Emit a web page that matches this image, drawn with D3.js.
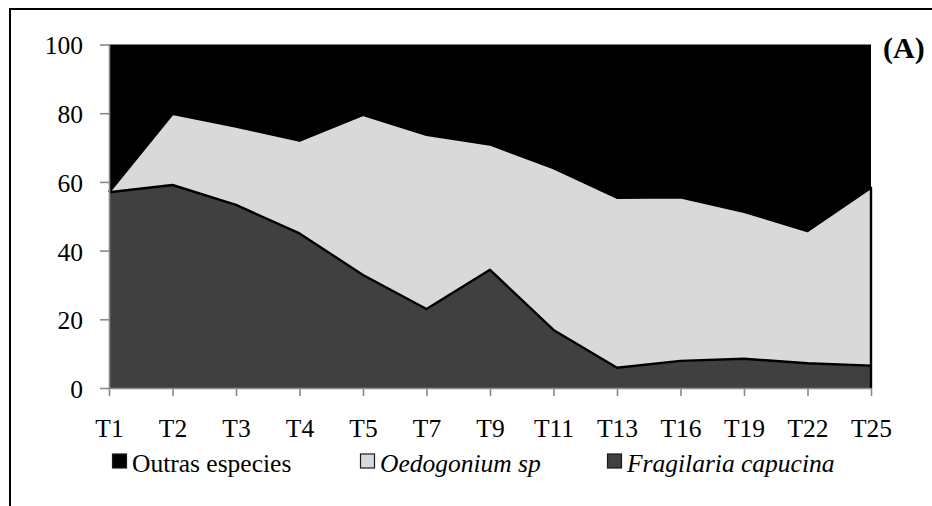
<!DOCTYPE html>
<html>
<head>
<meta charset="utf-8">
<script src="https://cdn.jsdelivr.net/npm/d3@7"></script>
<style>
  html, body { margin: 0; padding: 0; background: #fff; }
  svg { display: block; }
  text { font-family: "Liberation Serif", "Times New Roman", serif; }
</style>
</head>
<body>
<svg id="chart" width="932" height="506"></svg>
<script>
// Sampling times
const categories = ["T1", "T2", "T3", "T4", "T5", "T7", "T9", "T11", "T13", "T16", "T19", "T22", "T25"];

// Relative abundance (%) per taxon, stacked bottom to top
const fragilaria = [57.0, 59.1, 53.3, 45.0, 32.9, 23.0, 34.4, 16.9, 5.9, 7.9, 8.5, 7.2, 6.5];
const oedogonium = [0.0, 20.7, 22.8, 27.0, 46.6, 50.7, 36.5, 47.1, 49.5, 47.6, 42.8, 38.5, 51.8];
const outras     = [43.0, 20.2, 23.9, 28.0, 20.5, 26.3, 29.1, 36.0, 44.6, 44.5, 48.7, 54.3, 41.7];

const yTicks = [0, 20, 40, 60, 80, 100];

const seriesInfo = [
  { key: "fragilaria", label: "Fragilaria capucina", values: fragilaria, fill: "#404040", italic: true,  outline: true },
  { key: "oedogonium", label: "Oedogonium sp",       values: oedogonium, fill: "#d9d9d9", italic: true,  outline: true },
  { key: "outras",     label: "Outras especies",     values: outras,     fill: "#000000", italic: false, outline: false }
];
const legendOrder = ["outras", "oedogonium", "fragilaria"];

const table = categories.map((c, i) => {
  const row = { cat: c };
  seriesInfo.forEach(s => { row[s.key] = s.values[i]; });
  return row;
});

const svg = d3.select("#chart");
const axisColor = "#8a8a8a";
const fontSize = 25.5;

// Outer frame
svg.append("rect")
  .attr("x", 10).attr("y", 9)
  .attr("width", 1000).attr("height", 1000)
  .attr("fill", "none").attr("stroke", "#000").attr("stroke-width", 2);

const x = d3.scalePoint().domain(categories).range([109, 871]);
const y = d3.scaleLinear().domain([0, 100]).range([388, 44.5]);

const stack = d3.stack().keys(seriesInfo.map(s => s.key));
const stacked = stack(table);

const area = d3.area()
  .x(d => x(d.data.cat))
  .y0(d => y(d[0]))
  .y1(d => y(d[1]));

const plot = svg.append("g");

plot.selectAll("path.area")
  .data(stacked)
  .join("path")
  .attr("class", "area")
  .attr("d", area)
  .attr("fill", (d, i) => seriesInfo[i].fill);

// Black border along the upper edge and right end of each outlined series
const outlineLine = d3.line();
stacked.forEach((s, i) => {
  if (!seriesInfo[i].outline) return;
  const last = s[s.length - 1];
  const pts = s.map(d => [x(d.data.cat), y(d[1])]);
  pts.push([x(last.data.cat), y(last[0])]);
  plot.append("path")
    .attr("d", outlineLine(pts))
    .attr("fill", "none")
    .attr("stroke", "#000")
    .attr("stroke-width", 2.4)
    .attr("stroke-linejoin", "round");
});

// Axes
const yAxis = svg.append("g")
  .attr("transform", `translate(${x.range()[0]},0)`)
  .call(d3.axisLeft(y).tickValues(yTicks).tickSize(9).tickSizeOuter(0).tickPadding(17));

const xAxis = svg.append("g")
  .attr("transform", `translate(0,${y(0)})`)
  .call(d3.axisBottom(x).tickSize(8).tickSizeOuter(0).tickPadding(23));

[yAxis, xAxis].forEach(g => {
  g.select(".domain").attr("stroke", axisColor).attr("stroke-width", 1.6);
  g.selectAll(".tick line").attr("stroke", axisColor).attr("stroke-width", 1.6);
  g.selectAll(".tick text")
    .attr("fill", "#000")
    .style("font-family", '"Liberation Serif", "Times New Roman", serif')
    .style("font-size", fontSize + "px");
});
yAxis.selectAll(".tick text").attr("dy", "0.37em");

// Panel label
svg.append("text")
  .attr("x", 883).attr("y", 58)
  .style("font-size", "30px")
  .style("font-weight", "bold")
  .text("(A)");

// Legend
const legendX = { outras: 112, oedogonium: 360, fragilaria: 607 };
const legend = svg.append("g");
legendOrder.forEach(k => {
  const s = seriesInfo.find(d => d.key === k);
  const g = legend.append("g").attr("transform", `translate(${legendX[k]},0)`);
  g.append("rect")
    .attr("x", 0.5).attr("y", 454)
    .attr("width", 14).attr("height", 14)
    .attr("fill", s.fill)
    .attr("stroke", "#1a1a1a").attr("stroke-width", 1.2);
  g.append("text")
    .attr("x", 20).attr("y", 472)
    .style("font-size", fontSize + "px")
    .style("font-style", s.italic ? "italic" : "normal")
    .text(s.label);
});
</script>
</body>
</html>
